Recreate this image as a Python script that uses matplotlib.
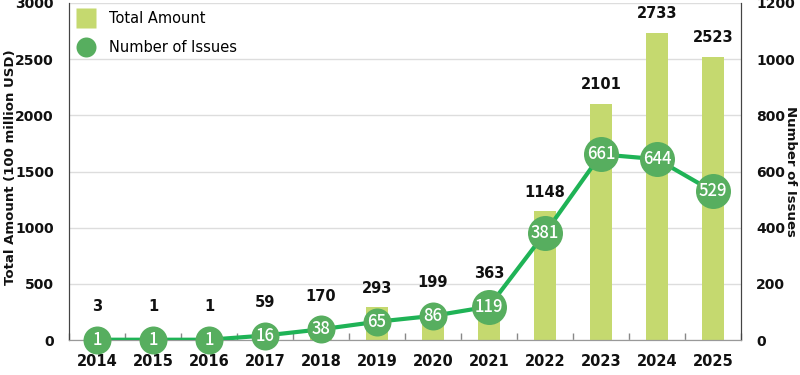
import matplotlib
matplotlib.use("Agg")
import matplotlib.pyplot as plt
from matplotlib.lines import Line2D
import numpy as np

plt.rcParams['font.family'] = ['DejaVu Sans']

years = ["2014", "2015", "2016", "2017", "2018", "2019", "2020", "2021", "2022", "2023", "2024", "2025"]
total_amount = [3, 1, 1, 59, 170, 293, 199, 363, 1148, 2101, 2733, 2523]
num_issues = [1, 1, 1, 16, 38, 65, 86, 119, 381, 661, 644, 529]

BAR_C = '#c5d96f'
LINE_C = '#1fb356'
MARK_C = '#57ae5f'
TXT_C = '#111111'

W, H = 800, 375
fig = plt.figure(figsize=(W / 100, H / 100), dpi=100)
ax = fig.add_axes([69 / W, 35 / H, 672 / W, 337 / H])
ax2 = ax.twinx()

x = np.arange(len(years))
ax.bar(x, total_amount, width=0.4, color=BAR_C, zorder=2)
ax.set_xlim(-0.5, len(years) - 0.5)
ax.set_ylim(0, 3000)
ax.set_yticks(np.arange(0, 3001, 500))
ax.grid(axis='y', color='#dddddd', linewidth=1, zorder=0)
ax.set_axisbelow(True)

ax2.set_ylim(0, 1200)
ax2.set_yticks(np.arange(0, 1201, 200))
ax2.plot(x, num_issues, color=LINE_C, linewidth=3.0, zorder=3)
px = 72 / 100
sizes = [(28 if v < 100 else 35) * px for v in num_issues]
for xi, v, s in zip(x, num_issues, sizes):
    ax2.plot(xi, v, 'o', ms=s, color=MARK_C, mec='none', zorder=4, clip_on=False)
    ax2.text(xi, v, str(v), ha='center', va='center', color='white',
             fontsize=12, fontweight='medium', family=['Noto Sans CJK JP', 'DejaVu Sans'],
             zorder=5)

# amount labels: above bar top or above marker, whichever higher
ax_h_px = 337
unit_px = ax_h_px / 3000
for xi, a, n in zip(x, total_amount, num_issues):
    y_bar = a * unit_px + 19
    y_mark = n * 2.5 * unit_px + 33
    y_px = max(y_bar, y_mark)
    ax.text(xi, y_px / unit_px, str(a), ha='center', va='center',
            fontsize=10.5, fontweight='bold', color=TXT_C, zorder=6)

ax.set_xticks(x)
ax.set_xticklabels(years, fontsize=10.5, fontweight='bold', color=TXT_C)
ax.set_xticks(np.arange(-0.5, len(years)), minor=True)
ax.tick_params(axis='x', which='major', length=0, pad=10)
ax.tick_params(axis='x', which='minor', direction='in', length=5, color='#888888', width=1)
ax.tick_params(axis='y', length=0, pad=11, labelsize=10, labelcolor=TXT_C)
for lab in ax.get_yticklabels():
    lab.set_fontweight('bold')
ax2.tick_params(axis='y', length=0, pad=11, labelsize=10, labelcolor=TXT_C)
for lab in ax2.get_yticklabels():
    lab.set_fontweight('bold')

for a in (ax, ax2):
    a.spines['top'].set_visible(False)
    a.spines['bottom'].set_color('#999999')
    a.spines['left'].set_color('#444444')
    a.spines['right'].set_color('#444444')

ax.set_ylabel("Total Amount (100 million USD)", fontsize=9.5, fontweight='bold', color=TXT_C)
ax.yaxis.set_label_coords(-0.077, 0.513)
ax2.set_ylabel("Number of Issues", fontsize=9.5, fontweight='bold', rotation=-90, color=TXT_C,
               va='center')
ax2.yaxis.set_label_coords(1.073, 0.5)

handles = [Line2D([], [], marker='s', ls='none', ms=20 * px, color=BAR_C, mec='none'),
           Line2D([], [], marker='o', ls='none', ms=20 * px, color=MARK_C, mec='none')]
leg = ax.legend(handles, ["Total Amount", "Number of Issues"], loc='upper left',
                bbox_to_anchor=(0.0, 1.005), frameon=False, fontsize=10.5,
                handletextpad=1.0, labelspacing=1.0, borderaxespad=0.25, handlelength=1.1)

fig.savefig("out.png", dpi=100)
